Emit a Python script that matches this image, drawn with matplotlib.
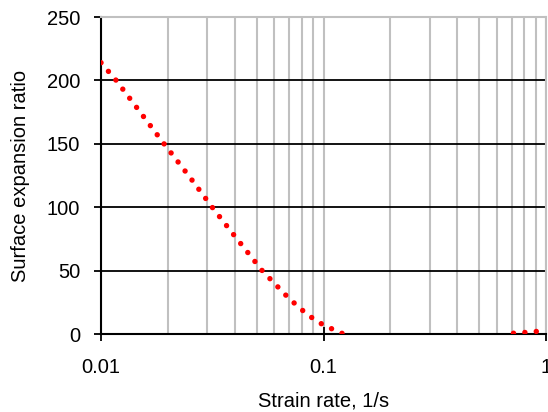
import matplotlib.pyplot as plt
from matplotlib.ticker import FixedLocator, FixedFormatter, LogLocator, NullFormatter

plt.rcParams['font.family'] = ['Liberation Sans', 'DejaVu Sans']

# Data
strain_rate = [0.01, 0.0117, 0.015, 0.0192, 0.025, 0.0316, 0.04, 0.053, 0.07,
               0.085, 0.1, 0.123, 0.15, 0.2, 0.3, 0.4, 0.5, 0.6, 0.65, 0.7,
               0.8, 0.9, 1.0]
expansion = [214, 200, 175, 150, 124, 100, 77, 50, 28,
             15, 7, 0, -8, -20, -30, -30, -22, -10, -1.0, 0.5,
             1.2, 2, 2.5]

x_ticks = [0.01, 0.1, 1]
x_labels = ['0.01', '0.1', '1']
y_ticks = [0, 50, 100, 150, 200, 250]

fig = plt.figure(figsize=(5.48, 4.12), dpi=100)
ax = fig.add_axes([0.1843, 0.1893, 0.8121, 0.7694])

ax.plot(strain_rate, expansion, color='#ff0000', linewidth=3.9,
        linestyle=(0, (0.01, 2.1)), dash_capstyle='round', zorder=3)

ax.set_xscale('log')
ax.set_xlim(0.01, 1)
ax.set_ylim(0, 250)

ax.xaxis.set_major_locator(FixedLocator(x_ticks))
ax.xaxis.set_major_formatter(FixedFormatter(x_labels))
ax.xaxis.set_minor_locator(LogLocator(base=10, subs=range(2, 10)))
ax.xaxis.set_minor_formatter(NullFormatter())
ax.set_yticks(y_ticks)

# gridlines: gray verticals, black horizontals
ax.grid(True, which='both', axis='x', color='#c0c0c0', linewidth=1.5)
ax.grid(True, which='major', axis='y', color='black', linewidth=1.3)
ax.set_axisbelow(True)

ax.tick_params(axis='x', which='minor', length=0)
ax.tick_params(axis='x', which='major', direction='inout', length=10,
               width=1.3, pad=12, labelsize=14.5, colors='black')
ax.tick_params(axis='y', direction='out', length=5, width=1.3, pad=10,
               labelsize=14.5)

for side in ['left', 'bottom']:
    ax.spines[side].set_color('black')
    ax.spines[side].set_linewidth(1.5)
for side in ['top', 'right']:
    ax.spines[side].set_color('#c0c0c0')
    ax.spines[side].set_linewidth(1.5)

ax.set_xlabel('Strain rate, 1/s', fontsize=14.5, labelpad=11)
ax.set_ylabel('Surface expansion ratio', fontsize=14.5, labelpad=12)

fig.savefig('out.png', dpi=100)
